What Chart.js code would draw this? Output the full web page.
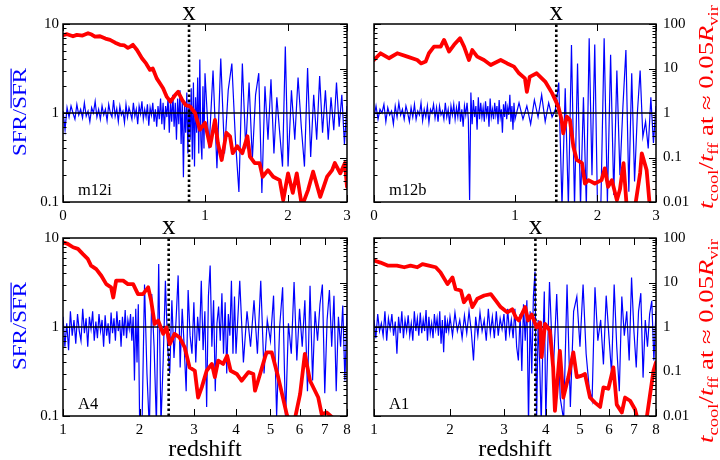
<!DOCTYPE html>
<html>
<head>
<meta charset="utf-8">
<script src="https://cdn.jsdelivr.net/npm/chart.js@4/dist/chart.umd.min.js"></script>
<style>
  html, body { margin: 0; padding: 0; background: #ffffff; }
  #wrap { position: relative; width: 720px; height: 460px; overflow: hidden; }
  #wrap canvas { position: absolute; left: 0; top: 0; }
</style>
</head>
<body>
<div id="wrap">
  <canvas id="c0" width="720" height="460"></canvas>
  <canvas id="c1" width="720" height="460"></canvas>
  <canvas id="c2" width="720" height="460"></canvas>
  <canvas id="c3" width="720" height="460"></canvas>
</div>
<script>
// ---------- data ----------
const panelNames = ['m12i', 'm12b', 'A4', 'A1'];
const transitionRedshifts = [0.85, 1.45, 2.5, 3.73];

const topTickRedshift = [0, 1, 2, 3];
const bottomTickRedshift = [1, 2, 3, 4, 5, 6, 7, 8];
const sfrTicks = [0.1, 1, 10];
const coolTicks = [0.01, 0.1, 1, 10, 100];

// redshift samples of the star formation histories
const topRedshift = [
  0,0.01,0.02,0.03,0.04,0.05,0.06,0.07,0.08,0.09,
  0.1,0.11,0.12,0.13,0.14,0.15,0.16,0.17,0.18,0.19,
  0.2,0.21,0.22,0.23,0.24,0.25,0.26,0.27,0.28,0.29,
  0.3,0.31,0.32,0.33,0.34,0.35,0.36,0.37,0.38,0.39,
  0.4,0.41,0.42,0.43,0.44,0.45,0.46,0.47,0.48,0.49,
  0.5,0.51,0.52,0.53,0.54,0.55,0.56,0.57,0.58,0.59,
  0.6,0.61,0.62,0.63,0.64,0.65,0.66,0.67,0.68,0.69,
  0.7,0.71,0.72,0.73,0.74,0.75,0.76,0.77,0.78,0.79,
  0.8,0.81,0.82,0.83,0.84,0.85,0.86,0.87,0.88,0.89,
  0.9,0.91,0.92,0.93,0.94,0.95,0.96,0.97,0.98,0.99,1,
  1.04,1.08,1.12,1.16,1.2,1.24,1.28,1.32,1.36,1.4,1.44,1.48,1.52,1.56,1.6,1.64,1.68,1.72,1.76,1.8,1.84,1.88,1.92,1.96,2,
  2.05,2.1,2.15,2.2,2.25,2.3,2.35,2.4,2.45,2.5,2.55,2.6,2.65,2.7,2.75,2.8,2.85,2.9,2.95,3];
const bottomRedshift = [
  1,1.02,1.04,1.06,1.08,1.1,1.12,1.14,1.16,1.18,
  1.2,1.22,1.24,1.26,1.28,1.3,1.32,1.34,1.36,1.38,
  1.4,1.42,1.44,1.46,1.48,1.5,1.52,1.54,1.56,1.58,
  1.6,1.62,1.64,1.66,1.68,1.7,1.72,1.74,1.76,1.78,
  1.8,1.82,1.84,1.86,1.88,1.9,1.92,1.94,1.96,1.98,2,
  2.04,2.08,2.12,2.16,2.2,2.24,2.28,2.32,2.36,2.4,
  2.44,2.48,2.52,2.56,2.6,2.64,2.68,2.72,2.76,2.8,
  2.84,2.88,2.92,2.96,3,3.04,3.08,3.12,3.16,3.2,
  3.24,3.28,3.32,3.36,3.4,3.44,3.48,3.52,3.56,3.6,
  3.64,3.68,3.72,3.76,3.8,3.84,3.88,3.92,3.96,4,
  4.1,4.2,4.3,4.4,4.5,4.6,4.7,4.8,4.9,5,5.1,5.2,5.3,5.4,5.5,5.6,5.7,5.8,5.9,6,
  6.1,6.2,6.3,6.4,6.5,6.6,6.7,6.8,6.9,7,7.1,7.2,7.3,7.4,7.5,7.6,7.7,7.8,7.9,8];

// SFR / mean SFR
const m12iSfr = [
  1.05,0.65,1.15,0.9,1.2,1.0,0.85,1.25,0.95,1.1,
  0.88,1.3,0.92,1.05,0.8,1.15,1.0,1.35,0.9,1.1,
  0.85,1.2,0.95,1.1,0.82,1.25,1.0,0.9,1.4,0.92,
  1.12,0.8,1.2,0.95,1.05,0.78,1.25,0.9,1.15,1.0,
  0.85,1.3,0.92,1.1,0.75,1.2,0.98,1.35,0.85,1.1,
  0.9,1.25,0.72,1.15,0.95,1.3,0.8,1.1,0.7,1.2,
  0.85,1.45,0.75,1.3,0.65,1.2,0.9,1.5,0.6,1.35,
  0.8,1.6,0.7,1.3,0.5,1.45,0.75,1.8,0.45,1.4,
  0.19,1.2,0.6,1.7,0.35,1.4,0.5,1.9,0.3,2.2,
  0.25,1.5,0.6,2.5,0.35,4.0,0.5,0.3,2.0,0.4,2.8,
  0.4,3.0,0.24,4.1,0.35,1.8,3.6,0.5,0.13,3.6,0.4,2.2,0.3,1.6,2.8,0.126,2.0,0.5,2.4,0.35,1.5,0.6,0.25,5.6,0.25,
  1.8,0.5,2.5,0.7,0.25,3.2,0.32,1.6,0.5,2.6,0.6,1.8,0.5,1.5,0.64,2.2,0.7,1.6,0.45,1.2];
const m12bSfr = [
  0.9,1.2,0.85,1.1,1.0,1.25,0.8,1.15,0.95,1.05,
  0.75,1.2,0.9,1.3,0.95,1.1,0.85,1.2,1.0,0.8,
  1.15,0.9,1.25,0.85,1.05,0.95,1.3,0.82,1.1,0.9,
  1.2,0.78,1.1,1.0,1.25,0.88,1.15,0.8,1.2,0.95,
  1.05,0.85,1.3,0.9,1.1,0.75,1.2,0.95,1.25,0.85,
  1.15,0.9,1.35,0.8,1.1,0.7,1.2,0.95,1.3,0.85,
  0.105,1.7,0.75,1.4,0.9,1.2,0.65,1.5,0.85,1.3,
  0.9,1.15,0.8,1.35,0.95,1.2,0.7,1.45,0.9,1.1,
  0.85,1.3,0.95,1.2,0.75,1.4,0.9,1.1,0.6,1.25,
  0.9,1.35,0.85,1.15,0.95,1.6,0.8,1.2,0.65,1.3,0.85,
  1.3,0.85,1.2,0.75,1.4,0.9,1.6,0.8,1.3,0.9,1.1,2.2,0.09,1.9,0.09,5.8,0.09,3.6,0.09,1.5,0.09,6.9,0.2,5.9,0.09,
  0.09,6.9,0.1,4.5,0.12,3.0,0.2,1.2,5.1,0.13,2.8,0.17,1.0,3.0,0.54,0.8,0.4,1.5,0.46,1.2];
const a4Sfr = [
  1.3,0.6,1.1,0.55,1.5,0.8,1.2,0.65,1.4,0.9,
  0.7,1.6,0.85,1.25,0.6,1.3,0.95,1.5,0.7,1.15,
  0.75,1.4,0.9,1.2,0.6,1.35,0.8,1.1,0.65,1.45,
  0.85,1.25,0.7,1.5,0.9,1.2,0.6,1.3,0.8,1.55,
  0.75,1.2,0.95,1.4,0.7,1.3,0.25,1.6,0.4,1.8,0.1,
  0.08,3.0,0.3,0.07,2.35,0.6,0.08,5.1,0.08,0.42,
  3.3,0.6,0.3,2.0,0.45,1.2,3.8,0.35,1.6,0.6,
  0.19,2.6,0.8,0.5,1.9,0.4,1.3,0.7,3.3,0.55,
  1.5,0.126,2.2,4.9,0.6,2.0,0.19,1.1,1.7,0.7,
  2.4,0.5,1.9,0.3,1.4,0.8,3.3,0.5,2.2,0.5,
  3.3,0.4,1.5,0.6,2.0,0.5,3.3,0.3,1.2,0.7,2.25,0.1,1.0,2.8,0.09,1.1,0.5,3.2,0.42,1.6,
  0.6,2.0,0.19,2.9,0.25,1.5,0.7,1.8,3.0,0.18,1.2,2.6,0.6,2.25,0.19,1.3,0.6,1.74,0.25,1.4];
const a1Sfr = [
  1.2,0.75,1.4,0.9,1.1,0.8,1.5,0.7,1.25,0.95,
  1.4,0.8,1.15,0.5,1.3,0.85,1.5,0.75,1.2,0.9,
  1.35,0.8,1.1,0.7,1.5,0.9,1.25,0.8,1.45,0.85,
  1.2,0.9,1.55,0.7,1.3,0.85,1.1,0.75,1.4,0.95,
  1.25,0.8,1.5,0.65,1.2,0.52,1.35,0.85,1.15,0.9,1.3,
  0.8,1.45,0.9,1.2,0.75,1.35,0.85,1.5,0.9,0.42,
  1.3,0.8,1.45,0.9,1.2,0.7,1.6,0.85,1.3,0.75,
  1.5,0.8,1.25,0.95,1.4,0.7,1.6,0.85,1.2,0.75,
  1.6,0.6,0.42,1.4,0.32,1.8,0.7,2.0,0.08,1.5,
  0.3,2.2,4.2,0.08,1.2,0.4,0.08,0.6,2.5,0.09,
  3.2,0.3,2.35,0.16,0.09,3.0,0.126,1.5,2.2,0.6,3.0,0.5,0.21,0.15,2.8,0.7,1.2,0.38,2.25,0.8,
  0.3,3.0,0.6,0.19,2.2,0.8,1.5,0.42,3.6,0.9,0.35,1.5,2.4,0.27,1.2,0.6,1.4,1.97,0.42,1.5];

// t_cool / t_ff at ~0.05 R_vir
const m12iCoolZ = [0,0.02,0.05,0.07,0.1,0.13,0.15,0.169,0.198,0.23,0.258,0.29,0.32,0.35,0.373,0.39,0.407,0.435,0.47,0.5,0.529,0.55,0.58,0.606,0.63,0.66,0.69,0.727,0.754,0.79,0.82,0.86,0.905,0.95,1,1.05,1.1,1.13,1.17,1.22,1.26,1.29,1.34,1.4,1.46,1.49,1.55,1.61,1.65,1.72,1.79,1.88,1.93,2,2.07,2.13,2.21,2.31,2.39,2.51,2.63,2.72,2.77,2.87,2.96,3];
const m12iCool = [56,59,53,57,55,62,58,52,53,47,44,38,34,33,29,31,34,26,17,13,9.3,10,6.0,4.6,3.6,2.3,1.8,2.5,3.0,1.95,1.5,1.4,1.0,0.42,0.6,0.18,0.7,0.21,0.088,0.36,0.3,0.125,0.18,0.125,0.3,0.105,0.075,0.075,0.037,0.052,0.037,0.031,0.011,0.044,0.016,0.044,0.008,0.019,0.048,0.013,0.037,0.052,0.075,0.044,0.075,0.022];
const m12bCoolZ = [0,0.033,0.076,0.121,0.178,0.237,0.26,0.289,0.31,0.343,0.388,0.411,0.446,0.482,0.526,0.557,0.595,0.621,0.661,0.717,0.775,0.864,0.925,0.99,1.04,1.1,1.12,1.15,1.225,1.32,1.4,1.475,1.515,1.535,1.58,1.62,1.665,1.71,1.78,1.82,1.87,1.96,2.06,2.11,2.16,2.22,2.3,2.35,2.41,2.46,2.61,2.7,2.73,2.82,2.88];
const m12bCool = [15.5,22,17,22,18.5,15.5,13,14.3,22,31,31,44,24,34,48,31,15.5,26,18.5,15.5,12,15.5,13,11,7.8,6.0,3.0,6.5,7.8,5.1,2.8,1.39,0.7,0.35,0.83,0.7,0.175,0.088,0.075,0.026,0.031,0.026,0.031,0.057,0.022,0.031,0.011,0.019,0.075,0.009,0.008,0.045,0.124,0.052,0.008];
const a4CoolZ = [1,1.05,1.11,1.165,1.22,1.28,1.32,1.385,1.45,1.515,1.58,1.61,1.65,1.75,1.82,1.9,1.975,2.055,2.14,2.19,2.25,2.31,2.4,2.46,2.52,2.61,2.71,2.81,2.91,3.02,3.09,3.17,3.28,3.4,3.47,3.55,3.67,3.77,3.86,4.02,4.15,4.34,4.48,4.53,4.62,4.83,4.88,5.04,5.25,5.54,5.75,6.02,6.2,6.4,6.73,6.87,7.08,7.36];
const a4Cool = [80,74,62,57,44,34,24,20,14.2,9.2,7.8,4.6,11,11,9.2,9.2,5.5,5.5,7.8,3.9,1.17,1.4,0.7,0.98,0.41,0.7,0.58,0.35,0.124,0.104,0.026,0.044,0.104,0.148,0.075,0.175,0.148,0.226,0.104,0.088,0.062,0.097,0.088,0.037,0.062,0.21,0.27,0.27,0.075,0.011,0.005,0.031,0.25,0.062,0.026,0.011,0.012,0.009];
const a1CoolZ = [1,1.07,1.15,1.26,1.35,1.43,1.52,1.59,1.68,1.78,1.85,1.96,2.04,2.09,2.18,2.23,2.32,2.38,2.47,2.6,2.73,2.83,2.93,3.07,3.18,3.26,3.33,3.48,3.55,3.64,3.76,3.85,3.89,3.98,4.11,4.2,4.25,4.39,4.49,4.64,4.79,4.9,5.06,5.16,5.33,5.5,5.68,5.8,5.98,6.17,6.3,6.5,6.63,6.84,7.05,7.27,7.49,7.88,8];
const a1Cool = [31,28,24,24,22,24,22,26,24,22,17,9.2,13,7.1,6.6,3.6,5.1,2.8,4.3,5.1,5.5,3.9,2.8,2.14,2.5,1.65,1.4,2.8,1.4,1.9,0.98,1.27,0.21,1.17,0.83,0.124,0.013,0.29,0.026,0.075,0.27,0.075,0.081,0.088,0.026,0.02,0.016,0.044,0.041,0.124,0.018,0.012,0.026,0.022,0.014,0.005,0.005,0.104,0.16];

// ---------- drawing ----------
const SERIF = '"Liberation Serif", "Times New Roman", serif';
const BLUE = '#0000ff';
const RED = '#ff0000';

// plot-area boxes [left, top, right, bottom] of the four panels
const panels = [
  { id: 'c0', name: panelNames[0], zGrid: topRedshift,    sfr: m12iSfr, coolZ: m12iCoolZ, cool: m12iCool, zX: transitionRedshifts[0], row: 'top',    col: 'left',  box: [63, 24, 347, 202] },
  { id: 'c1', name: panelNames[1], zGrid: topRedshift,    sfr: m12bSfr, coolZ: m12bCoolZ, cool: m12bCool, zX: transitionRedshifts[1], row: 'top',    col: 'right', box: [374, 24, 656, 202] },
  { id: 'c2', name: panelNames[2], zGrid: bottomRedshift, sfr: a4Sfr,   coolZ: a4CoolZ,   cool: a4Cool,   zX: transitionRedshifts[2], row: 'bottom', col: 'left',  box: [63, 238, 347, 416] },
  { id: 'c3', name: panelNames[3], zGrid: bottomRedshift, sfr: a1Sfr,   coolZ: a1CoolZ,   cool: a1Cool,   zX: transitionRedshifts[3], row: 'bottom', col: 'right', box: [374, 238, 656, 416] }
];

// minor tick positions of a log axis: 2..9 times each decade
function decadeMinors(lo, hi) {
  const out = [];
  for (let d = lo; d < hi * 0.999; d *= 10) {
    for (let k = 2; k <= 9; k++) out.push(d * k);
  }
  return out;
}

function pairs(xs, ys) {
  const n = Math.min(xs.length, ys.length);
  const out = [];
  for (let i = 0; i < n; i++) out.push({ x: 1 + xs[i], y: ys[i] });
  return out;
}

function drawSfrTitle(ctx, baseX, cy, len) {
  ctx.save();
  ctx.font = '19px ' + SERIF;
  const a = 'SFR/', b = 'SFR';
  const wa = ctx.measureText(a).width, wb = ctx.measureText(b).width;
  const total = wa + wb;
  ctx.translate(baseX, cy);
  ctx.rotate(-Math.PI / 2);
  ctx.scale(len / total, 1);
  ctx.fillStyle = BLUE;
  ctx.textAlign = 'left';
  ctx.textBaseline = 'alphabetic';
  const x0 = -total / 2;
  ctx.fillText(a, x0, 0);
  ctx.fillText(b, x0 + wa, 0);
  ctx.fillRect(x0 + wa + 0.5, -15.5, wb - 1, 1.2);
  ctx.restore();
}

function drawCoolTitle(ctx, baseX, cy, len) {
  const main = 20, sub = 14;
  const segs = [
    ['t', 'it'], ['cool', 'sub'], ['/', ''], ['t', 'it'], ['ff', 'sub'],
    [' at ', ''], ['\u2248', ''], [' 0.05', ''], ['R', 'it'], ['vir', 'sub']
  ];
  const fontOf = s => s[1] === 'it' ? 'italic ' + main + 'px ' + SERIF
                    : s[1] === 'sub' ? sub + 'px ' + SERIF
                    : main + 'px ' + SERIF;
  ctx.save();
  const widths = segs.map(s => { ctx.font = fontOf(s); return ctx.measureText(s[0]).width; });
  const total = widths.reduce((p, w) => p + w, 0);
  ctx.translate(baseX, cy);
  ctx.rotate(-Math.PI / 2);
  ctx.scale(len / total, 1);
  ctx.fillStyle = RED;
  ctx.textAlign = 'left';
  ctx.textBaseline = 'alphabetic';
  let x = -total / 2;
  segs.forEach((s, i) => {
    ctx.font = fontOf(s);
    ctx.fillText(s[0], x, s[1] === 'sub' ? 4.5 : 0);
    x += widths[i];
  });
  ctx.restore();
}

function decorPlugin(p, xTicks) {
  return {
    id: 'decor' + p.id,
    afterDraw(chart) {
      const ctx = chart.ctx, a = chart.chartArea;
      const sx = chart.scales.x, sy = chart.scales.y, sy2 = chart.scales.y2;
      ctx.save();
      // inward tick marks on all four sides
      ctx.strokeStyle = '#000';
      ctx.lineWidth = 1;
      ctx.beginPath();
      const tickY = (scale, vals, len, onLeft) => vals.forEach(v => {
        const y = Math.round(scale.getPixelForValue(v)) + 0.5;
        if (onLeft) { ctx.moveTo(a.left, y); ctx.lineTo(a.left + len, y); }
        else { ctx.moveTo(a.right, y); ctx.lineTo(a.right - len, y); }
      });
      tickY(sy, sfrTicks, 7, true);
      tickY(sy, decadeMinors(0.1, 10), 3.5, true);
      tickY(sy2, coolTicks, 7, false);
      tickY(sy2, decadeMinors(0.01, 100), 3.5, false);
      xTicks.forEach(z => {
        const x = Math.round(sx.getPixelForValue(1 + z)) + 0.5;
        ctx.moveTo(x, a.top); ctx.lineTo(x, a.top + 7);
        ctx.moveTo(x, a.bottom); ctx.lineTo(x, a.bottom - 7);
      });
      ctx.stroke();
      // frame
      ctx.lineWidth = 1.5;
      ctx.strokeRect(a.left, a.top, a.right - a.left, a.bottom - a.top);

      // panel name
      ctx.fillStyle = '#000';
      ctx.textAlign = 'left';
      ctx.textBaseline = 'alphabetic';
      ctx.font = '16.5px ' + SERIF;
      ctx.fillText(p.name, a.left + 15, a.bottom - 7.5);

      // transition marker above the dotted line
      ctx.textAlign = 'center';
      ctx.font = '27px ' + SERIF;
      ctx.fillText('x', sx.getPixelForValue(1 + p.zX), a.top - 4);

      const midY = (a.top + a.bottom) / 2;
      if (p.col === 'left') {
        drawSfrTitle(ctx, 26, midY - 1, 88);
      } else {
        drawCoolTitle(ctx, 713, p.row === 'top' ? midY - 6 : midY + 14, 204);
      }
      if (p.row === 'bottom') {
        ctx.fillStyle = '#000';
        ctx.textAlign = 'center';
        ctx.font = '24px ' + SERIF;
        ctx.fillText('redshift', (a.left + a.right) / 2, 456);
      }
      ctx.restore();
    }
  };
}

function makeChart(p) {
  const top = p.row === 'top';
  const xTicks = top ? topTickRedshift : bottomTickRedshift;
  const xMin = 1 + xTicks[0];
  const xMax = 1 + xTicks[xTicks.length - 1];
  const [L, T, R, B] = p.box;
  const AXW = 40, AXH = 30;
  const tickFont = { family: SERIF, size: 15 };
  const line = { pointRadius: 0, pointHoverRadius: 0, tension: 0, fill: false, clip: 0 };

  const datasets = [
    Object.assign({}, line, {
      label: 'tcool/tff', yAxisID: 'y2',
      data: pairs(p.coolZ, p.cool),
      borderColor: RED, borderWidth: 3.8, borderJoinStyle: 'round', borderCapStyle: 'round'
    }),
    Object.assign({}, line, {
      label: 'transition', yAxisID: 'y',
      data: [{ x: 1 + p.zX, y: 0.1 }, { x: 1 + p.zX, y: 10 }],
      borderColor: '#000', borderWidth: 2.6, borderDash: [2.5, 2.5]
    }),
    Object.assign({}, line, {
      label: 'unity', yAxisID: 'y',
      data: [{ x: xMin, y: 1 }, { x: xMax, y: 1 }],
      borderColor: '#000', borderWidth: 1.5
    }),
    Object.assign({}, line, {
      label: 'SFR', yAxisID: 'y',
      data: pairs(p.zGrid, p.sfr),
      borderColor: BLUE, borderWidth: 1.2
    })
  ];

  const logAxis = (pos, min, max, ticks, show, pad) => ({
    type: 'logarithmic', position: pos, min: min, max: max,
    grid: { display: false, drawTicks: false },
    border: { display: false },
    afterBuildTicks: s => { s.ticks = ticks.map(v => ({ value: v })); },
    afterFit: s => { s.width = AXW; },
    ticks: { display: show, autoSkip: false, padding: pad, color: '#000', font: tickFont, callback: v => String(v) }
  });

  return new Chart(document.getElementById(p.id), {
    type: 'line',
    data: { datasets: datasets },
    options: {
      responsive: false,
      animation: false,
      events: [],
      layout: { padding: { left: L - AXW, right: 720 - R - AXW, top: T, bottom: 460 - B - AXH } },
      plugins: { legend: { display: false }, tooltip: { enabled: false } },
      scales: {
        x: {
          type: 'logarithmic', position: 'bottom', min: xMin, max: xMax,
          grid: { display: false, drawTicks: false },
          border: { display: false },
          afterBuildTicks: s => { s.ticks = xTicks.map(z => ({ value: 1 + z })); },
          afterFit: s => { s.height = AXH; },
          ticks: { autoSkip: false, maxRotation: 0, minRotation: 0, padding: 5, color: '#000', font: tickFont,
                   callback: v => String(Math.round(v - 1)) }
        },
        y: logAxis('left', 0.1, 10, sfrTicks, p.col === 'left', 4),
        y2: logAxis('right', 0.01, 100, coolTicks, p.col === 'right', 7)
      }
    },
    plugins: [decorPlugin(p, xTicks)]
  });
}

panels.forEach(makeChart);
</script>
</body>
</html>
